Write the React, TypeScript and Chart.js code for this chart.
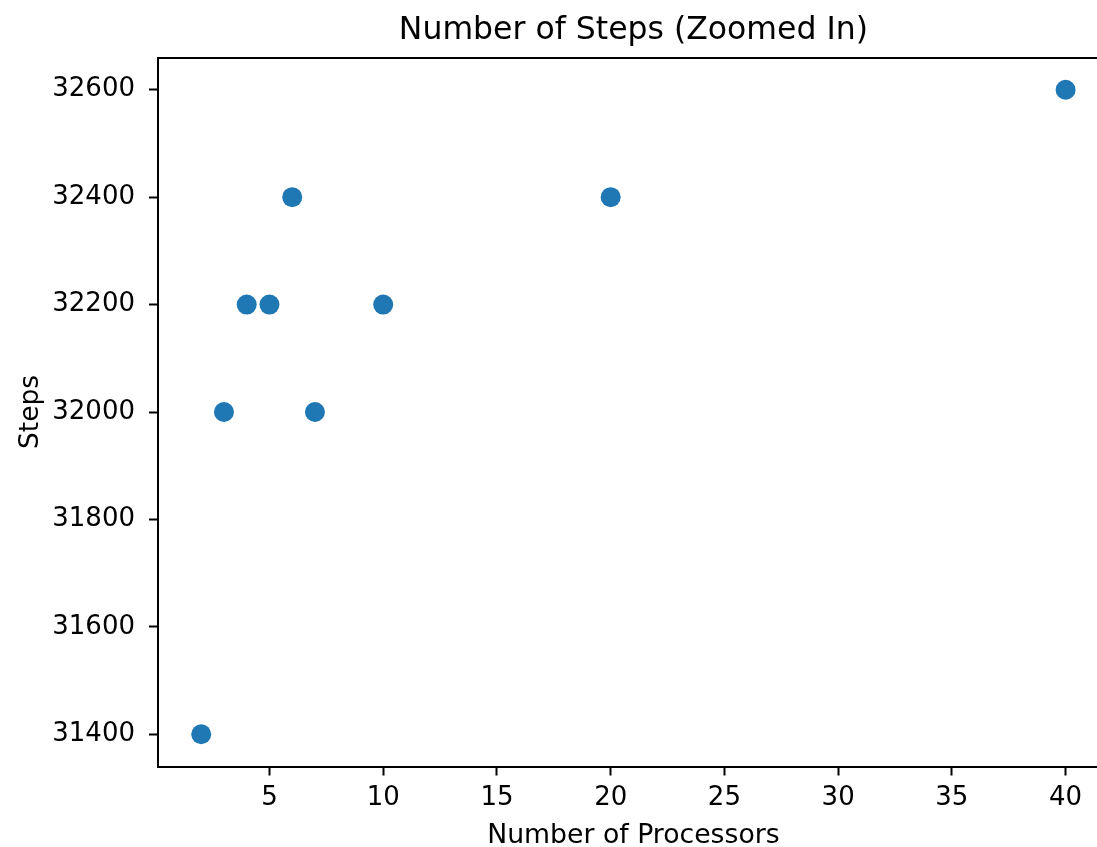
import React, { useEffect, useRef } from "react";
import { Chart, registerables } from "chart.js";

Chart.register(...registerables);

const processors = [2, 3, 4, 5, 6, 7, 10, 20, 40];
const steps = [31400, 32000, 32200, 32200, 32400, 32000, 32200, 32400, 32600];
const xTicks = [5, 10, 15, 20, 25, 30, 35, 40];
const yTicks = [31400, 31600, 31800, 32000, 32200, 32400, 32600];
const titleText = "Number of Steps (Zoomed In)";
const xLabel = "Number of Processors";
const yLabel = "Steps";
// full axes domain is 0.1 .. 41.9; the picture is cropped at ~41.4 on the right
const xMin = 0.1;
const xFullMax = 41.9;
const xVisibleMax = 41.38;
const yMin = 31340;
const yMax = 32660;

const FONT = '"DejaVu Sans", "Liberation Sans", sans-serif';

const textPlugin = {
  id: "axesTexts",
  afterDraw(chart: any) {
    const { ctx } = chart;
    const xs = chart.scales.x;
    const cx = xs.getPixelForValue((xMin + xFullMax) / 2);
    ctx.save();
    ctx.fillStyle = "#000";
    ctx.textAlign = "center";
    ctx.textBaseline = "alphabetic";
    ctx.font = `31.5px ${FONT}`;
    ctx.fillText(titleText, cx, 39);
    ctx.font = `26.7px ${FONT}`;
    ctx.fillText(xLabel, cx, 843);
    ctx.restore();
  },
};

const framePlugin = {
  id: "axesFrame",
  afterDatasetsDraw(chart: any) {
    const { ctx, chartArea } = chart;
    const top = Math.round(chartArea.top);
    const left = Math.round(chartArea.left);
    ctx.save();
    ctx.strokeStyle = "#000";
    ctx.lineWidth = 2;
    ctx.beginPath();
    ctx.moveTo(left - 1, top);
    ctx.lineTo(chart.width + 2, top);
    ctx.stroke();
    ctx.restore();
  },
};

export default function App() {
  const canvasRef = useRef<HTMLCanvasElement | null>(null);

  useEffect(() => {
    const canvas = canvasRef.current;
    if (!canvas) return;
    const chart = new Chart(canvas, {
      type: "scatter",
      data: {
        datasets: [
          {
            label: "Steps",
            data: processors.map((p, i) => ({ x: p, y: steps[i] })),
            backgroundColor: "#1f77b4",
            borderColor: "#ffffff",
            borderWidth: 0,
            pointRadius: 10,
            pointHoverRadius: 10,
          },
        ],
      },
      options: {
        responsive: false,
        animation: false,
        devicePixelRatio: 1,
        layout: { autoPadding: false, padding: { top: 57.5, left: 0, right: 0, bottom: 0 } },
        plugins: {
          legend: { display: false },
          title: { display: false },
          tooltip: { enabled: false },
        },
        scales: {
          x: {
            type: "linear",
            min: xMin,
            max: xVisibleMax,
            afterBuildTicks: (scale: any) => {
              scale.ticks = xTicks.map((v) => ({ value: v }));
            },
            afterFit: (scale: any) => {
              scale.height = 80.5;
              scale.paddingLeft = 0;
              scale.paddingRight = 0;
            },
            ticks: {
              autoSkip: false,
              maxRotation: 0,
              minRotation: 0,
              padding: 7,
              color: "#000",
              font: { family: FONT, size: 26 },
              callback: (v: any) => String(v),
            },
            grid: {
              drawOnChartArea: false,
              drawTicks: true,
              tickLength: 9,
              tickWidth: 2,
              tickColor: "#000",
            },
            border: { display: true, color: "#000", width: 2 },
            title: { display: false },
          },
          y: {
            type: "linear",
            min: yMin,
            max: yMax,
            afterBuildTicks: (scale: any) => {
              scale.ticks = yTicks.map((v) => ({ value: v }));
            },
            afterFit: (scale: any) => {
              scale.width = 158;
            },
            ticks: {
              autoSkip: false,
              padding: 14,
              color: "#000",
              font: { family: FONT, size: 26 },
              callback: (v: any) => String(v),
            },
            grid: {
              drawOnChartArea: false,
              drawTicks: true,
              tickLength: 9,
              tickWidth: 2,
              tickColor: "#000",
            },
            border: { display: true, color: "#000", width: 2 },
            title: {
              display: true,
              text: yLabel,
              color: "#000",
              font: { family: FONT, size: 26.5, lineHeight: 1 },
              padding: { top: 17.5, bottom: 0 },
            },
          },
        },
      },
      plugins: [textPlugin, framePlugin],
    });
    return () => chart.destroy();
  }, []);

  return (
    <div
      style={{
        position: "fixed",
        left: 0,
        top: 0,
        width: 1097,
        height: 847,
        overflow: "hidden",
        background: "#fff",
      }}
    >
      <canvas
        ref={canvasRef}
        width={1097}
        height={847}
        style={{ display: "block", width: 1097, height: 847 }}
      />
    </div>
  );
}
